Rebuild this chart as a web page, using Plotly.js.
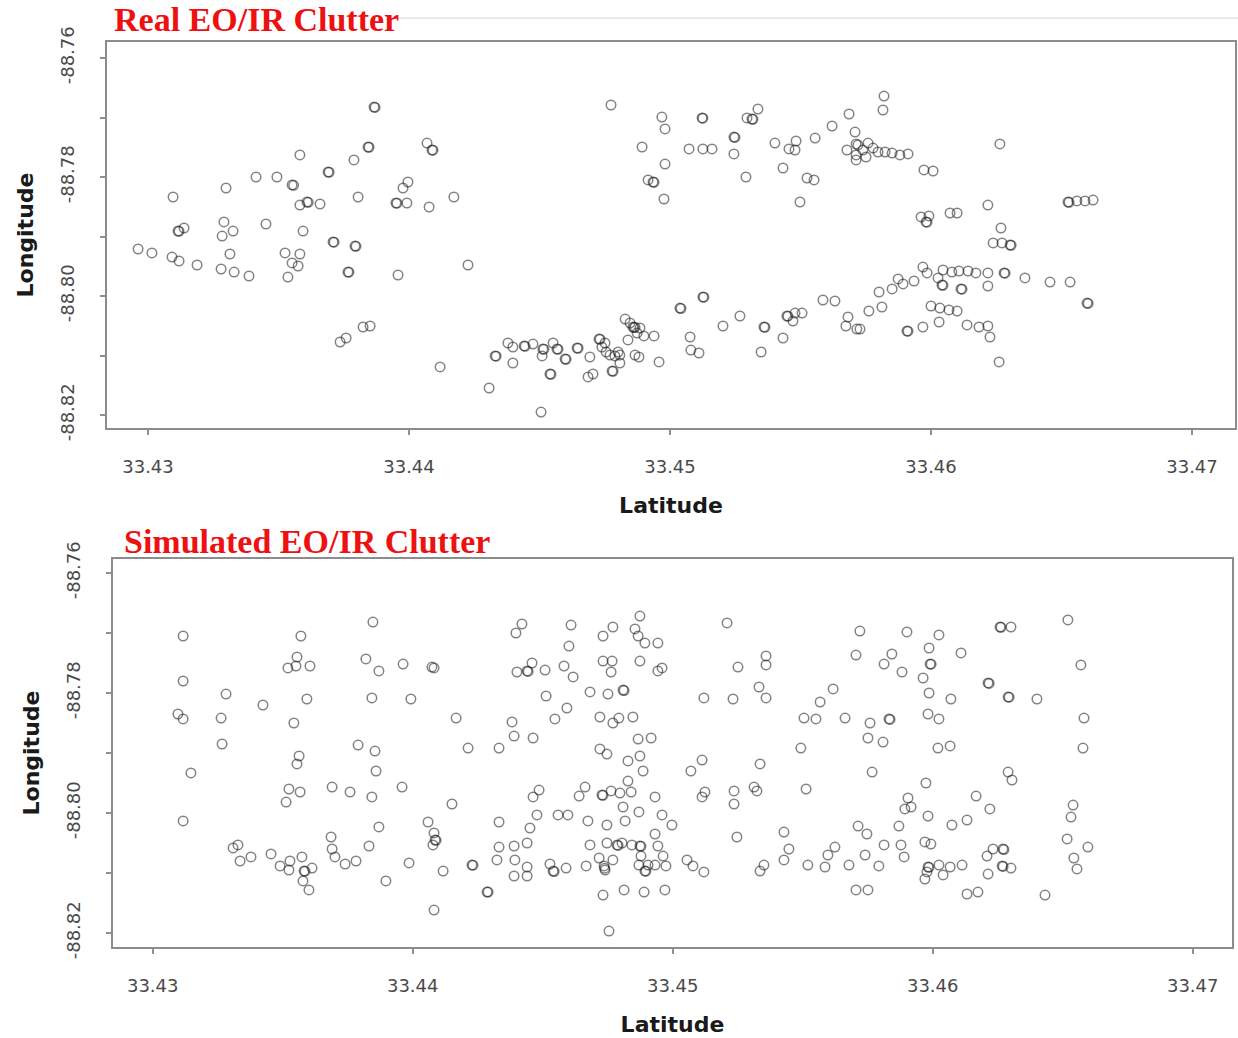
<!DOCTYPE html>
<html><head><meta charset="utf-8">
<script src="https://cdn.plot.ly/plotly-3.0.1.min.js"></script>
<style>html,body{margin:0;padding:0;background:#fff}#chart{width:1238px;height:1038px}</style>
</head><body><div id="chart"></div>
<script>
// ---- Data ----
const realLat = [33.43866,33.43870,33.44069,33.44088,33.44092,33.43843,33.43847,33.43582,33.43789,33.43690,33.43694,33.43414,33.43494,33.43299,33.43552,33.43558,33.43096,33.43805,33.43996,33.43977,33.44172,33.43950,33.43954,33.43992,33.44077,33.43582,33.43609,33.43614,33.43659,33.43115,33.43119,33.43138,33.43291,33.43284,33.43326,33.43452,33.43594,33.43709,33.43713,33.43793,33.43797,33.42962,33.43015,33.43092,33.43119,33.43188,33.43314,33.43280,33.43330,33.43387,33.43525,33.43582,33.43552,33.43575,33.43536,33.43766,33.43770,33.43958,33.44226,33.43824,33.43851,33.43736,33.43759,33.44119,33.44307,33.44774,33.44969,33.44981,33.44893,33.44981,33.44935,33.44939,33.44916,33.44977,33.45073,33.45126,33.45161,33.45123,33.45126,33.45245,33.45249,33.45245,33.45291,33.45295,33.45314,33.45318,33.45337,33.45402,33.45433,33.45483,33.45456,33.45479,33.45556,33.45525,33.45552,33.45498,33.45621,33.45686,33.45709,33.45678,33.45713,33.45713,33.45713,33.45820,33.45816,33.45720,33.45759,33.45739,33.45778,33.45797,33.45824,33.45851,33.45881,33.45912,33.45751,33.46264,33.45973,33.46008,33.46525,33.46529,33.46559,33.46590,33.46621,33.46218,33.45962,33.45992,33.45981,33.45985,33.46073,33.46100,33.46268,33.46238,33.46272,33.46303,33.46307,33.45969,33.45985,33.45874,33.45893,33.45851,33.45801,33.45935,33.46027,33.46042,33.46046,33.46046,33.46080,33.46107,33.46142,33.46172,33.46218,33.46115,33.46119,33.46218,33.46280,33.46284,33.46360,33.46456,33.46533,33.46598,33.46602,33.45762,33.45812,33.45728,33.46000,33.46034,33.46069,33.46100,33.45908,33.45912,33.45969,33.46031,33.46138,33.46184,33.46218,33.46226,33.46261,33.44506,33.44330,33.44334,33.44398,33.44379,33.44398,33.44441,33.44445,33.44475,33.44513,33.44517,33.44510,33.44552,33.44567,33.44571,33.44540,33.44544,33.44598,33.44602,33.44644,33.44648,33.44693,33.44686,33.44705,33.44728,33.44732,33.44739,33.44755,33.44770,33.44789,33.44808,33.44778,33.44782,33.44808,33.44828,33.44839,33.44858,33.44862,33.44866,33.44885,33.44874,33.44866,33.44881,33.44900,33.44939,33.44958,33.45038,33.45042,33.45126,33.45130,33.45077,33.45080,33.45111,33.45203,33.45268,33.45349,33.45360,33.45364,33.45433,33.45448,33.45452,33.45479,33.45506,33.45471,33.45586,33.45632,33.45682,33.45674,33.45716,33.44847,33.44751,33.44801];
const realLon = [-88.76824,-88.76830,-88.77429,-88.77546,-88.77550,-88.77496,-88.77500,-88.77630,-88.77714,-88.77916,-88.77920,-88.78000,-88.78000,-88.78185,-88.78134,-88.78140,-88.78336,-88.78336,-88.78084,-88.78185,-88.78336,-88.78437,-88.78440,-88.78437,-88.78504,-88.78471,-88.78420,-88.78425,-88.78454,-88.78908,-88.78912,-88.78857,-88.78756,-88.78992,-88.78908,-88.78790,-88.78908,-88.79092,-88.79096,-88.79160,-88.79165,-88.79210,-88.79277,-88.79345,-88.79412,-88.79479,-88.79294,-88.79546,-88.79597,-88.79664,-88.79277,-88.79294,-88.79445,-88.79496,-88.79681,-88.79597,-88.79600,-88.79647,-88.79479,-88.80521,-88.80504,-88.80773,-88.80706,-88.81193,-88.81546,-88.76790,-88.76992,-88.77193,-88.77496,-88.77782,-88.78084,-88.78090,-88.78050,-88.78370,-88.77529,-88.77529,-88.77529,-88.77008,-88.77012,-88.77328,-88.77335,-88.77613,-88.78000,-88.77008,-88.77025,-88.77030,-88.76857,-88.77429,-88.77849,-88.77395,-88.77529,-88.77546,-88.77345,-88.78017,-88.78050,-88.78420,-88.77143,-88.76941,-88.77244,-88.77546,-88.77445,-88.77630,-88.77714,-88.76639,-88.76874,-88.77462,-88.77429,-88.77546,-88.77513,-88.77580,-88.77580,-88.77597,-88.77630,-88.77613,-88.77664,-88.77445,-88.77882,-88.77899,-88.78420,-88.78425,-88.78403,-88.78403,-88.78387,-88.78471,-88.78672,-88.78655,-88.78756,-88.78760,-88.78605,-88.78605,-88.78857,-88.79109,-88.79109,-88.79143,-88.79147,-88.79513,-88.79613,-88.79714,-88.79798,-88.79882,-88.79933,-88.79748,-88.79697,-88.79815,-88.79820,-88.79563,-88.79597,-88.79580,-88.79580,-88.79613,-88.79613,-88.79882,-88.79886,-88.79832,-88.79613,-88.79617,-88.79697,-88.79765,-88.79765,-88.80118,-88.80125,-88.80252,-88.80185,-88.80555,-88.80168,-88.80202,-88.80235,-88.80252,-88.80588,-88.80592,-88.80521,-88.80437,-88.80487,-88.80521,-88.80504,-88.80689,-88.81109,-88.81950,-88.81008,-88.81012,-88.81126,-88.80790,-88.80857,-88.80840,-88.80845,-88.80807,-88.80891,-88.80895,-88.81008,-88.80790,-88.80891,-88.80895,-88.81311,-88.81315,-88.81059,-88.81065,-88.80874,-88.80878,-88.81025,-88.81361,-88.81311,-88.80723,-88.80727,-88.80857,-88.80941,-88.80992,-88.81008,-88.80992,-88.81261,-88.81265,-88.81126,-88.80387,-88.80739,-88.80521,-88.80530,-88.80525,-88.80538,-88.80622,-88.80992,-88.81025,-88.80672,-88.80672,-88.81109,-88.80202,-88.80210,-88.80017,-88.80020,-88.80689,-88.80908,-88.80958,-88.80504,-88.80336,-88.80941,-88.80521,-88.80525,-88.80706,-88.80336,-88.80340,-88.80286,-88.80286,-88.80420,-88.80067,-88.80084,-88.80353,-88.80504,-88.80555,-88.80454,-88.80790,-88.80941];

const simLat = [33.43847,33.43117,33.43570,33.43555,33.43520,33.43551,33.43605,33.43820,33.43870,33.43963,33.44074,33.44082,33.43117,33.43282,33.43424,33.43593,33.43843,33.43993,33.43097,33.43117,33.43263,33.43543,33.44167,33.43267,33.43790,33.43855,33.44213,33.43563,33.43555,33.43147,33.43859,33.43690,33.43759,33.43524,33.43567,33.43843,33.43959,33.43513,33.44151,33.43117,33.44059,33.43870,33.44082,33.44086,33.44090,33.44078,33.43686,33.43690,33.43701,33.43832,33.43328,33.43309,33.43336,33.43378,33.43455,33.43490,33.43528,33.43524,33.43574,33.43582,33.43586,33.43613,33.43578,33.43601,33.43740,33.43782,33.43986,33.43897,33.44117,33.44228,33.44232,33.44286,33.44082,33.44420,33.44397,33.44609,33.44601,33.44770,33.44732,33.44874,33.44855,33.44867,33.44893,33.44943,33.45209,33.45720,33.45705,33.45359,33.45359,33.45251,33.44401,33.44440,33.44444,33.44459,33.44509,33.44582,33.44617,33.44732,33.44767,33.44763,33.44874,33.44943,33.44959,33.44513,33.44682,33.44751,33.44809,33.44813,33.44593,33.44547,33.44720,33.44770,33.44793,33.44847,33.44382,33.44390,33.44463,33.44332,33.44867,33.44917,33.44720,33.44747,33.45120,33.45232,33.45332,33.45359,33.45617,33.45567,33.45505,33.45551,33.45663,33.45493,33.44828,33.44874,33.44886,33.44828,33.45113,33.45070,33.45336,33.44486,33.44463,33.44663,33.44640,33.44728,33.44732,33.44763,33.44797,33.44840,33.44932,33.44809,33.44870,33.44817,33.44747,33.44674,33.44478,33.44559,33.44597,33.44332,33.44451,33.44959,33.44997,33.44932,33.45124,33.45113,33.45236,33.45236,33.45313,33.45324,33.45513,33.45247,33.45428,33.45447,33.45428,33.45520,33.45624,33.45597,33.45586,33.45678,33.45713,33.45705,33.45351,33.45336,33.44332,33.44390,33.44440,33.44324,33.44393,33.44390,33.44440,33.44440,33.44290,33.44528,33.44540,33.44544,33.44590,33.44667,33.44682,33.44717,33.44736,33.44740,33.44738,33.44770,33.44747,33.44786,33.44790,33.44805,33.44843,33.44874,33.44878,33.44878,33.44870,33.44905,33.44893,33.44897,33.44932,33.44943,33.44963,33.44974,33.45055,33.45078,33.45120,33.44732,33.44813,33.44890,33.44970,33.44755,33.45901,33.46024,33.45986,33.46109,33.46259,33.46263,33.46301,33.46520,33.45843,33.45813,33.45990,33.45994,33.45882,33.45963,33.46570,33.46213,33.46217,33.45986,33.46070,33.46290,33.46294,33.46401,33.45832,33.45836,33.45759,33.45982,33.46024,33.46582,33.45751,33.45809,33.46020,33.46067,33.46578,33.45767,33.45974,33.46290,33.46305,33.46167,33.46220,33.45905,33.45893,33.45917,33.45982,33.46132,33.46074,33.46540,33.46532,33.45747,33.45870,33.45813,33.45878,33.45970,33.45993,33.45740,33.45890,33.45793,33.46517,33.46597,33.46543,33.46555,33.46232,33.46270,33.46274,33.46209,33.46267,33.46271,33.46301,33.46213,33.45982,33.45986,33.46024,33.46067,33.46113,33.45978,33.45970,33.46040,33.45751,33.46132,33.46174,33.46432];
const simLon = [-88.76817,-88.77050,-88.77050,-88.77400,-88.77583,-88.77550,-88.77550,-88.77433,-88.77633,-88.77517,-88.77567,-88.77583,-88.77800,-88.78017,-88.78200,-88.78100,-88.78083,-88.78100,-88.78350,-88.78433,-88.78417,-88.78500,-88.78417,-88.78850,-88.78867,-88.78967,-88.78917,-88.79050,-88.79183,-88.79333,-88.79300,-88.79567,-88.79650,-88.79600,-88.79650,-88.79733,-88.79567,-88.79817,-88.79850,-88.80133,-88.80150,-88.80233,-88.80333,-88.80450,-88.80455,-88.80533,-88.80400,-88.80600,-88.80733,-88.80550,-88.80533,-88.80583,-88.80800,-88.80733,-88.80683,-88.80883,-88.80800,-88.80950,-88.80733,-88.80967,-88.80970,-88.80917,-88.81133,-88.81283,-88.80850,-88.80800,-88.80833,-88.81133,-88.80967,-88.80867,-88.80870,-88.81317,-88.81617,-88.76850,-88.77000,-88.76867,-88.77217,-88.76900,-88.77050,-88.76717,-88.76933,-88.77050,-88.77167,-88.77167,-88.76833,-88.76967,-88.77367,-88.77383,-88.77533,-88.77567,-88.77650,-88.77633,-88.77640,-88.77500,-88.77617,-88.77550,-88.77733,-88.77467,-88.77467,-88.77650,-88.77467,-88.77633,-88.77583,-88.78050,-88.77983,-88.78017,-88.77950,-88.77960,-88.78250,-88.78433,-88.78400,-88.78500,-88.78417,-88.78400,-88.78483,-88.78717,-88.78750,-88.78917,-88.78767,-88.78750,-88.78933,-88.79017,-88.78083,-88.78100,-88.77900,-88.78083,-88.77933,-88.78150,-88.78417,-88.78433,-88.78417,-88.78917,-88.79133,-88.79050,-88.79300,-88.79467,-88.79117,-88.79300,-88.79183,-88.79617,-88.79733,-88.79567,-88.79717,-88.79700,-88.79705,-88.79633,-88.79667,-88.79650,-88.79733,-88.79900,-88.79983,-88.80133,-88.80200,-88.80133,-88.80033,-88.80033,-88.80033,-88.80150,-88.80250,-88.80033,-88.80200,-88.80350,-88.79650,-88.79733,-88.79633,-88.79850,-88.79567,-88.79633,-88.79600,-88.80400,-88.80317,-88.80600,-88.80783,-88.80867,-88.80567,-88.80700,-88.80900,-88.80867,-88.80217,-88.81283,-88.80867,-88.80967,-88.80567,-88.80550,-88.80500,-88.80783,-88.80783,-88.81050,-88.81050,-88.80900,-88.81317,-88.80850,-88.80967,-88.80975,-88.80917,-88.80883,-88.80533,-88.80750,-88.80883,-88.80950,-88.80920,-88.80783,-88.80500,-88.80533,-88.80540,-88.80500,-88.80533,-88.80550,-88.80555,-88.80717,-88.80867,-88.80867,-88.80967,-88.80970,-88.80867,-88.80550,-88.80717,-88.80883,-88.80783,-88.80883,-88.80983,-88.81367,-88.81283,-88.81317,-88.81283,-88.81967,-88.76983,-88.77033,-88.77250,-88.77333,-88.76900,-88.76905,-88.76900,-88.76783,-88.77350,-88.77517,-88.77517,-88.77520,-88.77650,-88.77750,-88.77533,-88.77833,-88.77840,-88.78000,-88.78100,-88.78067,-88.78070,-88.78100,-88.78433,-88.78440,-88.78500,-88.78350,-88.78433,-88.78417,-88.78750,-88.78817,-88.78917,-88.78883,-88.78917,-88.79317,-88.79500,-88.79317,-88.79450,-88.79717,-88.79933,-88.79750,-88.79933,-88.79900,-88.80050,-88.80117,-88.80200,-88.79867,-88.80067,-88.80350,-88.80217,-88.80533,-88.80533,-88.80483,-88.80517,-88.80700,-88.80733,-88.80883,-88.80433,-88.80567,-88.80750,-88.80933,-88.80600,-88.80600,-88.80610,-88.80717,-88.80883,-88.80890,-88.80917,-88.81017,-88.80900,-88.80905,-88.80867,-88.80900,-88.80867,-88.80983,-88.81100,-88.81033,-88.81283,-88.81350,-88.81317,-88.81367];

const latTickVals = [33.43, 33.44, 33.45, 33.46, 33.47];
const latTickText = ['33.43', '33.44', '33.45', '33.46', '33.47'];
const lonTickVals = [-88.82, -88.81, -88.80, -88.79, -88.78, -88.77, -88.76];
const lonTickText = ['-88.82', '', '-88.80', '', '-88.78', '', '-88.76'];
const panelTitles = ['Real EO/IR Clutter', 'Simulated EO/IR Clutter'];
const xLabel = 'Latitude';
const yLabel = 'Longitude';

// ---- Styling / layout ----
const W = 1238, H = 1038;
const tickFont = {family: 'DejaVu Sans, Arial, sans-serif', size: 18, color: '#4a4a4a'};
const axTitleFont = {family: 'DejaVu Sans, Arial, sans-serif', size: 22, color: '#1a1a1a', weight: 'bold'};
const marker = {symbol: 'circle-open', size: 9.5, color: 'rgba(30,30,30,0.55)', line: {width: 1.5}};

function xAxis(domain, range, anchor) {
  return {
    domain: domain, range: range, anchor: anchor,
    tickmode: 'array', tickvals: latTickVals, ticktext: latTickText,
    ticks: 'outside', ticklen: 5, tickwidth: 1.5, tickcolor: '#909090',
    ticklabelstandoff: 16,
    showline: true, linecolor: '#8c8c8c', linewidth: 2, mirror: true,
    showgrid: false, zeroline: false, tickfont: tickFont,
    title: {text: xLabel, font: axTitleFont, standoff: 22}
  };
}
function yAxis(domain, range, anchor) {
  return {
    domain: domain, range: range, anchor: anchor,
    tickmode: 'array', tickvals: lonTickVals, ticktext: lonTickText,
    ticks: 'outside', ticklen: 5, tickwidth: 1.5, tickcolor: '#909090',
    tickangle: -90, ticklabelstandoff: 19,
    showline: true, linecolor: '#8c8c8c', linewidth: 2, mirror: true,
    showgrid: false, zeroline: false, tickfont: tickFont,
    title: {text: yLabel, font: axTitleFont, standoff: 17}
  };
}

const traces = [
  {type: 'scatter', mode: 'markers', x: realLat, y: realLon, xaxis: 'x', yaxis: 'y',
   marker: marker, name: panelTitles[0], hoverinfo: 'x+y'},
  {type: 'scatter', mode: 'markers', x: simLat, y: simLon, xaxis: 'x2', yaxis: 'y2',
   marker: marker, name: panelTitles[1], hoverinfo: 'x+y'}
];

const layout = {
  width: W, height: H,
  margin: {l: 0, r: 0, t: 0, b: 0},
  paper_bgcolor: '#ffffff', plot_bgcolor: '#ffffff',
  showlegend: false,
  xaxis: xAxis([107 / W, 1235 / W], [33.428429, 33.471648], 'y'),
  yaxis: yAxis([1 - 428 / H, 1 - 42 / H], [-88.822185, -88.757311], 'x'),
  xaxis2: xAxis([113 / W, 1232 / W], [33.428473, 33.471512], 'y2'),
  yaxis2: yAxis([1 - 947 / H, 1 - 559 / H], [-88.822333, -88.757667], 'x2'),
  shapes: [
    {type: 'line', xref: 'paper', yref: 'paper', x0: 0.32, x1: 1, y0: 1 - 18 / H, y1: 1 - 18 / H,
     line: {color: '#d4d4d4', width: 1}}
  ],
  annotations: [
    {text: panelTitles[0], xref: 'paper', yref: 'paper', x: 112 / W, y: 1 - 20 / H,
     xanchor: 'left', yanchor: 'middle', showarrow: false,
     font: {family: 'Liberation Serif, Times New Roman, serif', size: 34, color: '#ee1111', weight: 'bold'}},
    {text: panelTitles[1], xref: 'paper', yref: 'paper', x: 122 / W, y: 1 - 541 / H,
     xanchor: 'left', yanchor: 'middle', showarrow: false,
     font: {family: 'Liberation Serif, Times New Roman, serif', size: 34, color: '#ee1111', weight: 'bold'}}
  ]
};

Plotly.newPlot('chart', traces, layout, {displayModeBar: false, responsive: false});
</script>
</body></html>
